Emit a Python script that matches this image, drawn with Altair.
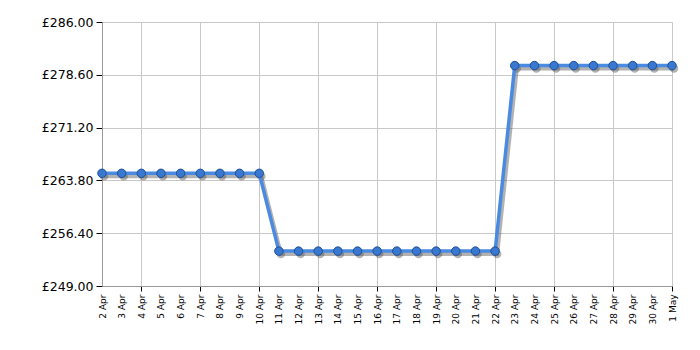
import altair as alt
import pandas as pd

dates = ["2 Apr", "3 Apr", "4 Apr", "5 Apr", "6 Apr", "7 Apr", "8 Apr", "9 Apr", "10 Apr",
         "11 Apr", "12 Apr", "13 Apr", "14 Apr", "15 Apr", "16 Apr", "17 Apr", "18 Apr",
         "19 Apr", "20 Apr", "21 Apr", "22 Apr", "23 Apr", "24 Apr", "25 Apr", "26 Apr",
         "27 Apr", "28 Apr", "29 Apr", "30 Apr", "1 May"]
prices = [264.79] * 9 + [253.89] * 12 + [279.89] * 9
y_ticks = [249.00, 256.40, 263.80, 271.20, 278.60, 286.00]
grid_dates = ["4 Apr", "7 Apr", "10 Apr", "13 Apr", "16 Apr", "19 Apr", "22 Apr",
              "25 Apr", "28 Apr", "1 May"]

df = pd.DataFrame({"date": dates, "price": prices})

grid_list = "[" + ",".join("'" + d + "'" for d in grid_dates) + "]"
grid_test = f"indexof({grid_list}, datum.value) >= 0"

x_enc = alt.X(
    "date:O",
    sort=dates,
    scale=alt.Scale(type="point", padding=0),
    axis=alt.Axis(
        title=None,
        labelAngle=270,
        labelFontSize=9,
        labelFont="DejaVu Sans",
        labelColor="#000000",
        labelPadding=3,
        tickSize=5,
        tickColor="#000000",
        tickOpacity={"condition": {"test": grid_test, "value": 1}, "value": 0},
        grid=True,
        gridColor="#c8c8c8",
        gridOpacity={"condition": {"test": grid_test, "value": 1}, "value": 0},
        domainColor="#999999",
    ),
)
y_enc = alt.Y(
    "price:Q",
    scale=alt.Scale(domain=[249, 286], nice=False, zero=False),
    axis=alt.Axis(
        title=None,
        values=y_ticks,
        labelExpr="'£' + format(datum.value, '.2f')",
        labelFontSize=12.5,
        labelFont="DejaVu Sans",
        labelColor="#000000",
        labelPadding=3,
        tickSize=6,
        tickColor="#000000",
        gridColor="#c8c8c8",
        domainColor="#999999",
    ),
)

base = alt.Chart(df).encode(x=x_enc, y=y_enc)

shadow_line = base.mark_line(color="#555555", strokeWidth=4, opacity=0.45, xOffset=2, yOffset=3)
shadow_pts = base.mark_circle(color="#555555", size=72, opacity=0.45, xOffset=2, yOffset=3)
line = base.mark_line(color="#4a8ae0", strokeWidth=3.5)
pts = base.mark_point(filled=True, fill="#3a78d0", stroke="#1d4f99", strokeWidth=1, size=72, opacity=1, shape="circle")

chart = alt.layer(shadow_line, shadow_pts, line, pts).properties(
    width=570,
    height=264,
    autosize=alt.AutoSizeParams(type="none"),
    padding={"left": 102, "top": 22, "right": 28, "bottom": 64},
).configure_view(stroke=None).configure(background="#ffffff")

chart.save("out.html", embed_options={"renderer": "svg", "actions": False})
